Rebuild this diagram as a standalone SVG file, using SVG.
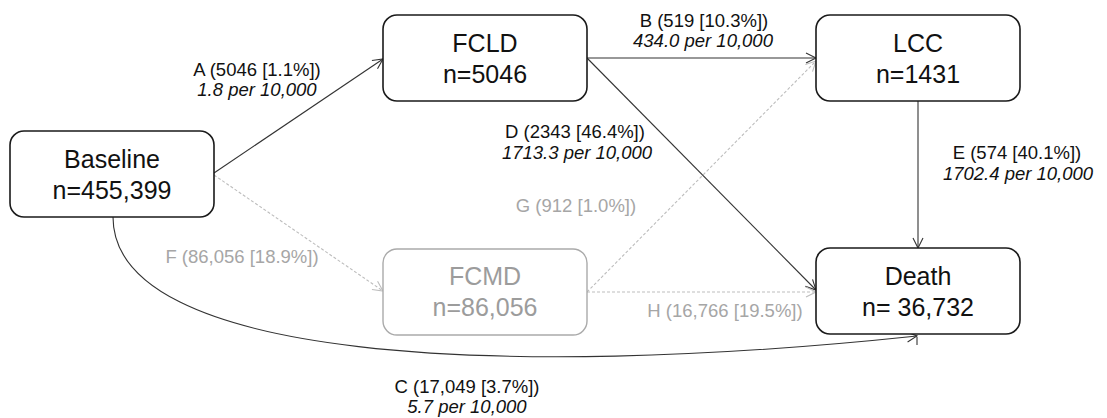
<svg xmlns="http://www.w3.org/2000/svg" width="1107" height="418" viewBox="0 0 1107 418">
<style>
.box{fill:#fff;stroke:#1a1a1a;stroke-width:1.6}
.gbox{fill:#fff;stroke:#aaaaaa;stroke-width:1.4}
.nt{font-family:"Liberation Sans",Arial,sans-serif;font-size:25px;fill:#111;text-anchor:middle}
.gnt{font-family:"Liberation Sans",Arial,sans-serif;font-size:25px;fill:#9c9c9c;text-anchor:middle}
.lb{font-family:"Liberation Sans",Arial,sans-serif;font-size:18.5px;fill:#111;text-anchor:middle}
.glb{font-family:"Liberation Sans",Arial,sans-serif;font-size:18.5px;fill:#a6a6a6;text-anchor:middle}
.it{font-style:italic}
.ln{fill:none;stroke:#333;stroke-width:1.1}
.gln{fill:none;stroke:#bdbdbd;stroke-width:1.1;stroke-dasharray:3 2}
</style>
<defs>
<marker id="ab" markerUnits="userSpaceOnUse" markerWidth="14" markerHeight="14" refX="11" refY="6" orient="auto" viewBox="0 0 14 12">
<path d="M1,1 L11,6 L1,11" fill="none" stroke="#333" stroke-width="1.1"/>
</marker>
<marker id="ag" markerUnits="userSpaceOnUse" markerWidth="14" markerHeight="14" refX="11" refY="6" orient="auto" viewBox="0 0 14 12">
<path d="M1,1 L11,6 L1,11" fill="none" stroke="#bdbdbd" stroke-width="1.1"/>
</marker>
</defs>
<rect width="1107" height="418" fill="#fff"/>
<g id="connectors">
<path class="ln" d="M214,173 L383,59" marker-end="url(#ab)"/>
<path class="ln" d="M587,58 L816,58" marker-end="url(#ab)"/>
<path class="ln" d="M587,58 L816,290" marker-end="url(#ab)"/>
<path class="ln" d="M918,101 L918,248" marker-end="url(#ab)"/>
<path class="ln" d="M113,217 C113,360 500,380 917,336" marker-end="url(#ab)"/>
<path class="ln" d="M917,337 L917,345"/>
<path class="gln" d="M214,175 L383,291" marker-end="url(#ag)"/>
<path class="gln" d="M587,292 L816,61" marker-end="url(#ag)"/>
<path class="gln" d="M587,292 L816,292" marker-end="url(#ag)"/>
<text class="lb" x="257" y="76">A (5046 [1.1%])</text>
<text class="lb it" x="257" y="96">1.8 per 10,000</text>
<text class="lb" x="704" y="27">B (519 [10.3%])</text>
<text class="lb it" x="703" y="47">434.0 per 10,000</text>
<text class="lb" x="575" y="138">D (2343 [46.4%])</text>
<text class="lb it" x="577" y="159">1713.3 per 10,000</text>
<text class="lb" x="1017" y="159">E (574 [40.1%])</text>
<text class="lb it" x="1018" y="180">1702.4 per 10,000</text>
<text class="glb" x="576" y="212">G (912 [1.0%])</text>
<text class="glb" x="242" y="263">F (86,056 [18.9%])</text>
<text class="glb" x="725" y="317">H (16,766 [19.5%])</text>
<text class="lb" x="467" y="393">C (17,049 [3.7%])</text>
<text class="lb it" x="467" y="413">5.7 per 10,000</text>
</g>
<g id="baseline">
<rect class="box" x="10" y="131" width="204" height="86" rx="14"/>
<text class="nt" x="112" y="168">Baseline</text>
<text class="nt" x="112" y="199">n=455,399</text>
</g>
<g id="fcld">
<rect class="box" x="383" y="15" width="204" height="86" rx="14"/>
<text class="nt" x="485" y="52">FCLD</text>
<text class="nt" x="485" y="83">n=5046</text>
</g>
<g id="lcc">
<rect class="box" x="816" y="15" width="204" height="86" rx="14"/>
<text class="nt" x="918" y="52">LCC</text>
<text class="nt" x="918" y="83">n=1431</text>
</g>
<g id="fcmd">
<rect class="gbox" x="383" y="249" width="204" height="86" rx="14"/>
<text class="gnt" x="485" y="285">FCMD</text>
<text class="gnt" x="485" y="316">n=86,056</text>
</g>
<g id="death">
<rect class="box" x="816" y="248" width="204" height="86" rx="14"/>
<text class="nt" x="918" y="285">Death</text>
<text class="nt" x="918" y="316">n= 36,732</text>
</g>
</svg>
